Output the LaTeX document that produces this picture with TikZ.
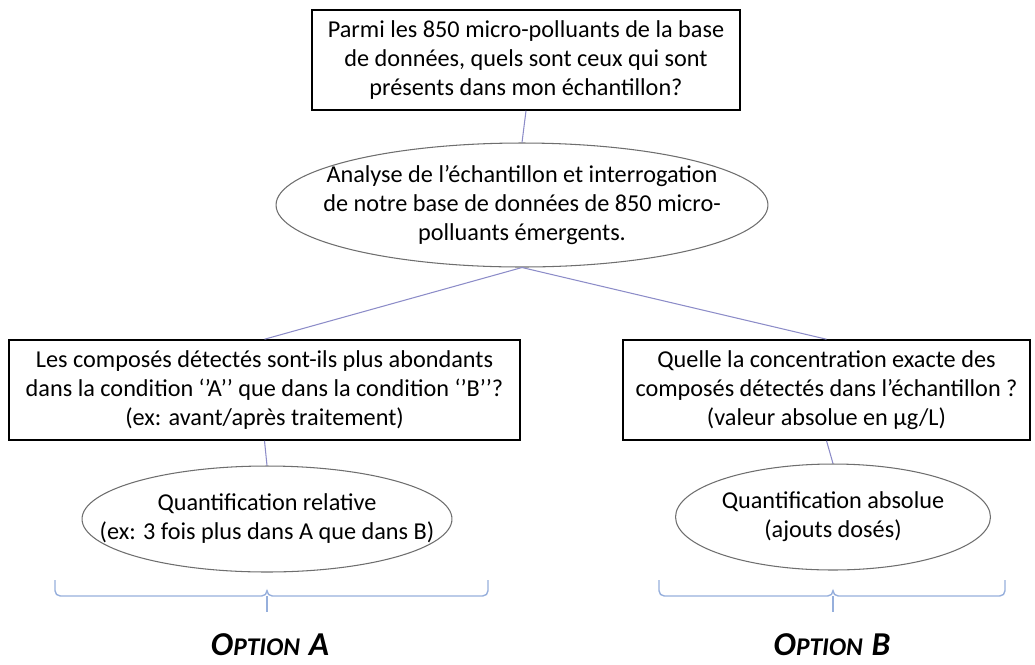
\documentclass[tikz,border=0pt]{standalone}
\usepackage{fontspec}
\setmainfont{Carlito}
\usetikzlibrary{shapes.geometric}
\definecolor{linkblue}{RGB}{140,140,200}
\definecolor{braceblue}{RGB}{150,175,220}
\definecolor{ellgray}{RGB}{110,110,110}
\tikzset{
  txt/.style={
    font=\fontsize{13.8}{16.5}\selectfont,
    align=center,
    inner sep=0pt
  },
  question-box/.style={
    txt,
    rectangle,
    draw=black,
    line width=0.9pt,
    fill=white
  },
  step-ellipse/.style={
    ellipse,
    inner sep=0pt,
    draw=ellgray,
    line width=0.6pt,
    fill=white
  },
  link/.style={draw=linkblue, line width=0.6pt},
  bracket/.style={draw=braceblue, line width=0.8pt, rounded corners=3pt},
  option-label/.style={font=\bfseries\itshape, inner sep=0pt}
}
\newcommand{\optionname}[1]{%
  {\fontsize{19}{19}\selectfont O}{\fontsize{14.5}{14.5}\selectfont PTION}\hspace{5pt}{\fontsize{19}{19}\selectfont #1}}

\begin{document}
\begin{tikzpicture}[x=0.02cm, y=-0.02cm]
  \useasboundingbox (0,0) rectangle (1035,664);
  % Question
  \node[question-box, minimum width=8.56cm, minimum height=2cm] (question) at (526,60)
    {Parmi les 850 micro-polluants de la base\\de donn\'ees, quels sont ceux qui sont\\pr\'esents dans mon \'echantillon?};
  % Analyse
  \node[step-ellipse, minimum width=9.84cm, minimum height=2.48cm,
    label={[txt]center:{Analyse de l’\'echantillon et interrogation\\de notre base de donn\'ees de 850 micro-\\polluants \'emergents.}}]
    (analyse) at (522,205) {};
  % Option A
  \node[question-box, minimum width=10.22cm, minimum height=2cm] (questionA) at (264.5,390)
    {Les compos\'es d\'etect\'es sont-ils plus abondants\\dans la condition ‘’A’’ que dans la condition ‘’B’’?\\(ex: avant/apr\`es traitement)};
  \node[step-ellipse, minimum width=7.4cm, minimum height=2.12cm,
    label={[txt]center:{Quantification relative\\(ex: 3 fois plus dans A que dans B)}}]
    (quantA) at (267,519) {};
  % Option B
  \node[question-box, minimum width=8.14cm, minimum height=2cm] (questionB) at (826.5,390)
    {Quelle la concentration exacte des\\compos\'es d\'etect\'es dans l’\'echantillon ?\\(valeur absolue en µg/L)};
  \node[step-ellipse, minimum width=6.3cm, minimum height=2.12cm,
    label={[txt]center:{Quantification absolue\\(ajouts dos\'es)}}]
    (quantB) at (833,517) {};
  % Links
  \draw[link] (question.south) -- (analyse.north);
  \draw[link] (analyse.south) -- (questionA.north);
  \draw[link] (analyse.south) -- (questionB.north);
  \draw[link] (questionA.south) -- (quantA.north);
  \draw[link] (questionB.south) -- (quantB.north);
  % Braces
  \draw[bracket] (55,580) |- (267,596) |- (488,596) -- (488,580);
  \draw[bracket] (267,596) -- (267,612);
  \draw[bracket] (659,580) |- (833,596) |- (1005,596) -- (1005,580);
  \draw[bracket] (833,596) -- (833,612);
  % Labels
  \node[option-label] (optionA) at (270,645) {\optionname{A}};
  \node[option-label] (optionB) at (832,645) {\optionname{B}};
\end{tikzpicture}
\end{document}
